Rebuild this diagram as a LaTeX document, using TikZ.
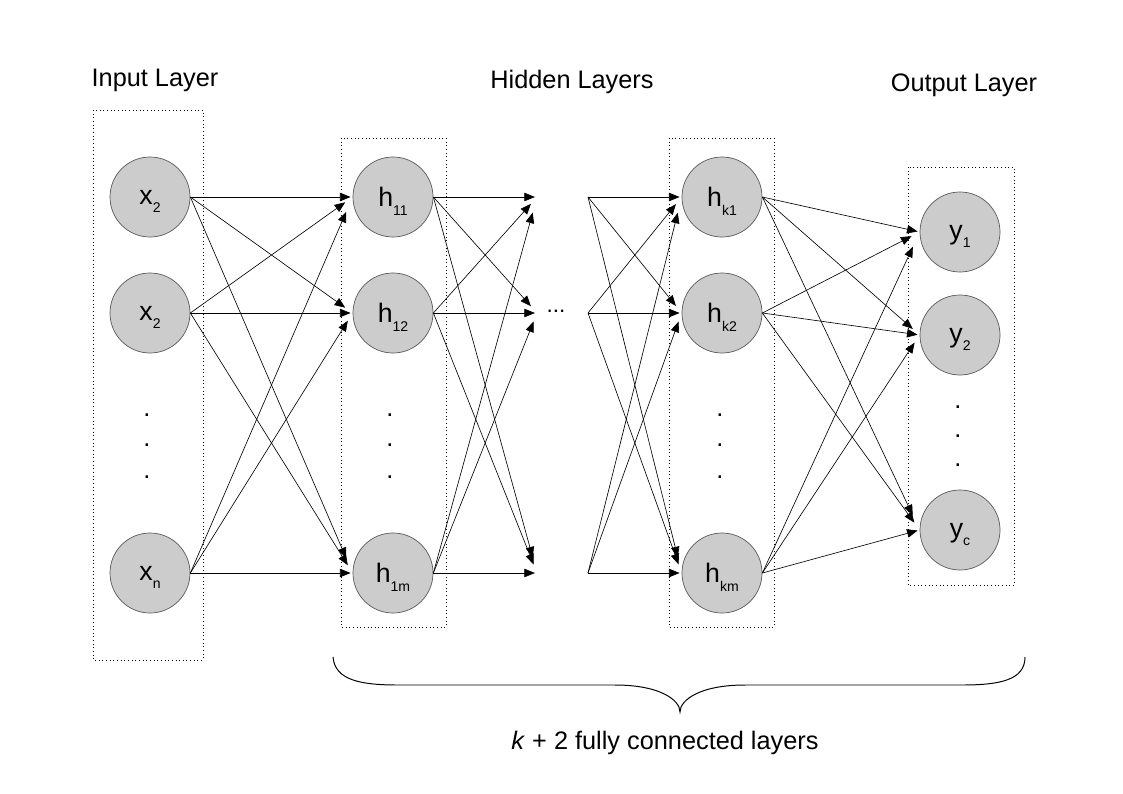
\documentclass[tikz,border=0pt]{standalone}
\usepackage{fontspec}
\setmainfont{Liberation Sans}
\usetikzlibrary{arrows.meta}
\newcommand{\lsub}[1]{\raisebox{-6pt}{\fontsize{10}{12}\selectfont #1}}

\begin{document}
\begin{tikzpicture}[x=0.025cm,y=-0.025cm,
  neuron/.style={circle,draw=black!65,fill=black!20,line width=0.5pt,minimum size=2cm,inner sep=0pt,text depth=0pt,font=\fontsize{19}{22}\selectfont},
  layerbox/.style={draw,dotted,line width=0.6pt},
  conn/.style={-{Triangle[length=7.5pt,width=6pt]},line width=0.45pt},
  title/.style={font=\fontsize{18}{22}\selectfont},
  vdot/.style={inner sep=0pt,font=\fontsize{18}{22}\selectfont}]
  \useasboundingbox (0,0) rectangle (1123,794);

  \draw[layerbox] (93,110) rectangle (203,660);
  \draw[layerbox] (341,138) rectangle (446,627);
  \draw[layerbox] (669,138) rectangle (774,627);
  \draw[layerbox] (908,167) rectangle (1014,585);

  \node[title] (inlbl) at (155,80) {Input Layer};
  \node[title] (hidlbl) at (572,82) {Hidden Layers};
  \node[title] (outlbl) at (964,85) {Output Layer};

  \node[neuron] (x1) at (150,197) {x\lsub{2}};
  \node[neuron] (x2) at (150,313) {x\lsub{2}};
  \node[neuron] (x3) at (150,573) {x\lsub{n}};

  \node[neuron] (ha1) at (393,197) {h\lsub{11}};
  \node[neuron] (ha2) at (393,313) {h\lsub{12}};
  \node[neuron] (ha3) at (393,573) {h\lsub{1m}};

  \node[neuron] (hk1) at (722,197) {h\lsub{k1}};
  \node[neuron] (hk2) at (722,313) {h\lsub{k2}};
  \node[neuron] (hk3) at (722,573) {h\lsub{km}};

  \node[neuron] (y1) at (960,232) {y\lsub{1}};
  \node[neuron] (y2) at (960,335) {y\lsub{2}};
  \node[neuron] (y3) at (960,530) {y\lsub{c}};

  \coordinate (m1) at (537,197);
  \coordinate (m2) at (537,313);
  \coordinate (m3) at (537,573);
  \coordinate (s1) at (588,197);
  \coordinate (s2) at (588,313);
  \coordinate (s3) at (588,573);
  \node[font=\fontsize{16}{18}\selectfont,inner sep=0pt] (gap) at (556,311) {...};

  \foreach \d [count=\n] in {415,445,477}{
    \node[vdot] (xd\n) at (147,\d) {.};
    \node[vdot] (had\n) at (390,\d) {.};
    \node[vdot] (hkd\n) at (720,\d) {.};
  }
  \foreach \d [count=\n] in {407,436,465}
    \node[vdot] (yd\n) at (958,\d) {.};

  \foreach \i in {1,2,3}
    \foreach \j in {1,2,3}{
      \pgfmathsetmacro\cut{1.5+5*abs(\i-\j)}
      \draw[conn,shorten >=\cut pt] (x\i.east) -- (ha\j.west);
      \draw[conn,shorten >=\cut pt] (ha\i.east) -- (m\j);
      \draw[conn,shorten >=\cut pt] (s\i) -- (hk\j.west);
      \draw[conn,shorten >=\cut pt] (hk\i.east) -- (y\j.west);
    }

  \draw[line width=0.7pt] (333,657) .. controls (335,680) and (360,685) .. (398,685) -- (615,685)
    .. controls (660,685) and (680,700) .. (680,712)
    .. controls (680,700) and (700,685) .. (745,685) -- (962,685)
    .. controls (1000,685) and (1025,680) .. (1025,657);
  \node[title] (caption) at (665,743) {\textit{k} + 2 fully connected layers};
\end{tikzpicture}
\end{document}
